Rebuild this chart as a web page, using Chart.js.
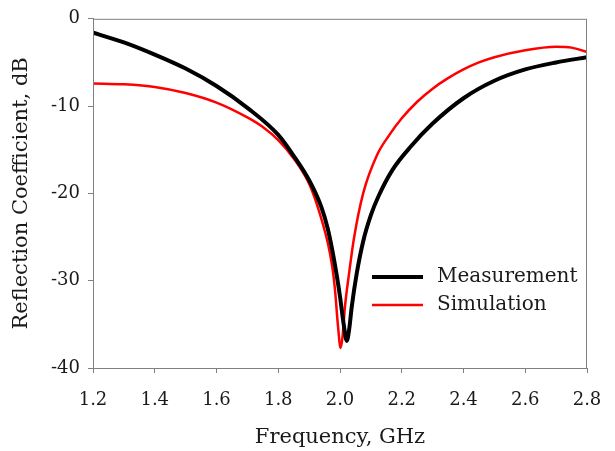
<!DOCTYPE html>
<html>
<head>
<meta charset="utf-8">
<script src="https://cdn.jsdelivr.net/npm/chart.js@4.4.1/dist/chart.umd.min.js"></script>
<style>
  html, body { margin: 0; padding: 0; background: #fff; }
  #wrap { width: 615px; height: 451px; }
</style>
</head>
<body>
<div id="wrap"><canvas id="grafica" width="615" height="451"></canvas></div>
<script>
// Measurement (black)
const measFreq = [1.2, 1.3, 1.4, 1.5, 1.6, 1.7, 1.8, 1.85, 1.9, 1.94, 1.96, 1.975, 1.99, 2.0, 2.012, 2.022, 2.03, 2.038, 2.054, 2.075, 2.1, 2.125, 2.17, 2.23, 2.3, 2.4, 2.5, 2.6, 2.7, 2.8];
const measDb   = [-1.6, -2.7, -4.1, -5.7, -7.7, -10.2, -13.3, -15.7, -18.5, -21.6, -24.0, -26.5, -29.5, -31.8, -35, -36.9, -35.5, -33.0, -29.2, -25.5, -22.5, -20.3, -17.3, -14.6, -12.0, -9.1, -7.1, -5.8, -5.0, -4.4];
// Simulation (red)
const simFreq = [1.2, 1.3, 1.4, 1.5, 1.6, 1.7, 1.75, 1.8, 1.85, 1.9, 1.93, 1.96, 1.975, 1.984, 1.993, 2.002, 2.008, 2.016, 2.03, 2.045, 2.075, 2.12, 2.16, 2.2, 2.25, 2.3, 2.35, 2.4, 2.45, 2.5, 2.6, 2.7, 2.75, 2.8];
const simDb   = [-7.4, -7.5, -7.8, -8.5, -9.6, -11.3, -12.4, -13.9, -16.0, -18.9, -21.8, -25.6, -28.4, -31.1, -35, -37.7, -36.5, -33.0, -29.0, -25.2, -20.0, -15.6, -13.3, -11.4, -9.5, -8.0, -6.8, -5.8, -5.0, -4.4, -3.6, -3.2, -3.3, -3.8];

const xTicks = [1.2, 1.4, 1.6, 1.8, 2.0, 2.2, 2.4, 2.6, 2.8];
const yTicks = [0, -10, -20, -30, -40];

const fuente = "'DejaVu Serif', serif";
const gris = '#808080';
const tinta = '#1a1a1a';

const puntos = (xs, ys) => xs.map((x, i) => ({x: x, y: ys[i]}));

// caja alrededor del area y leyenda dentro
const cajaYLeyenda = {
    id: 'cajaYLeyenda',
    afterDraw(chart) {
        const ctx = chart.ctx;
        const a = chart.chartArea;
        ctx.save();
        ctx.strokeStyle = gris;
        ctx.lineWidth = 1;
        ctx.strokeRect(a.left + 0.5, a.top + 0.5, a.right - a.left - 1, a.bottom - a.top);
        const filas = [277, 305];
        chart.data.datasets.forEach((ds, i) => {
            ctx.strokeStyle = ds.borderColor;
            ctx.lineWidth = ds.borderWidth;
            ctx.beginPath();
            ctx.moveTo(372, filas[i]);
            ctx.lineTo(423, filas[i]);
            ctx.stroke();
            ctx.fillStyle = tinta;
            ctx.font = "20px " + fuente;
            ctx.textBaseline = 'middle';
            ctx.fillText(ds.label, 437, filas[i]);
        });
        ctx.restore();
    }
};

new Chart(document.getElementById('grafica').getContext('2d'), {
    type: 'line',
    data: {
        datasets: [{
            label: 'Measurement',
            data: puntos(measFreq, measDb),
            borderColor: '#000000',
            borderWidth: 4,
            pointRadius: 0,
            cubicInterpolationMode: 'monotone'
        }, {
            label: 'Simulation',
            data: puntos(simFreq, simDb),
            borderColor: '#ff0000',
            borderWidth: 2.5,
            pointRadius: 0,
            cubicInterpolationMode: 'monotone'
        }]
    },
    options: {
        responsive: false,
        animation: false,
        layout: { padding: { top: 16, right: 28, left: 0, bottom: 0 } },
        plugins: { legend: { display: false }, tooltip: { enabled: false } },
        scales: {
            x: {
                type: 'linear',
                min: 1.2,
                max: 2.8,
                afterFit(axis) {
                    axis.height = 83;
                    axis.paddingLeft = 0;
                    axis.paddingRight = 0;
                },
                afterBuildTicks(axis) { axis.ticks = xTicks.map(v => ({value: v})); },
                ticks: {
                    color: tinta,
                    font: { family: fuente, size: 18 },
                    padding: 17,
                    maxRotation: 0,
                    callback: v => v.toFixed(1)
                },
                grid: { drawOnChartArea: false, drawTicks: true, tickLength: 5, color: gris },
                border: { display: true, color: gris },
                title: {
                    display: true,
                    text: 'Frequency, GHz',
                    color: tinta,
                    font: { family: fuente, size: 21 },
                    padding: { top: 0, bottom: 1 }
                }
            },
            y: {
                type: 'linear',
                min: -40,
                max: 0,
                afterFit(axis) { axis.width = 93; },
                afterBuildTicks(axis) { axis.ticks = yTicks.map(v => ({value: v})); },
                ticks: {
                    color: tinta,
                    font: { family: fuente, size: 18 },
                    padding: 8
                },
                grid: { drawOnChartArea: false, drawTicks: true, tickLength: 5, color: gris },
                border: { display: true, color: gris },
                title: {
                    display: true,
                    text: 'Reflection Coefficient, dB',
                    color: tinta,
                    font: { family: fuente, size: 21 },
                    padding: { top: 9, bottom: 0 }
                }
            }
        }
    },
    plugins: [cajaYLeyenda]
});
</script>
</body>
</html>
